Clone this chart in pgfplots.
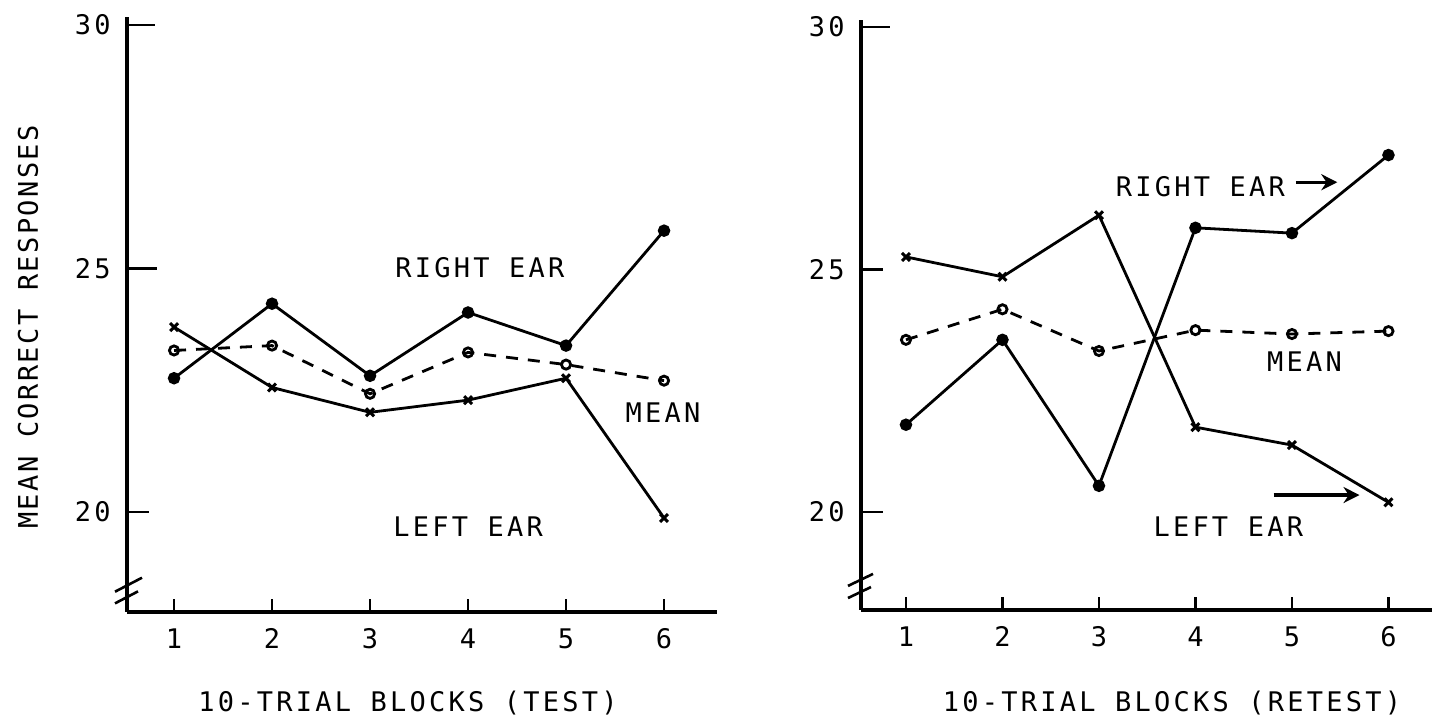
\documentclass[border=0pt]{standalone}
\usepackage{fontspec}
\setmainfont{DejaVu Sans Mono}[LetterSpace=12]
\newfontfamily\ylabfont{DejaVu Sans Mono}[LetterSpace=9]
\usepackage{pgfplots}
\pgfplotsset{compat=1.18}
\usetikzlibrary{arrows.meta}

\tikzset{tk/.style={line width=1.3pt}}
\pgfplotsset{
  panel/.style={
    anchor=south west,
    axis lines=left,
    axis line style={-, line width=1.7pt},
    xtick={1,2,3,4,5,6}, ytick={20,25,30},
    tick align=inside, major tick length=6.5pt,
    xtick style={line width=1.3pt, black},
    ytick style={draw=none},
    xticklabel style={inner sep=0pt, yshift=-8pt},
    yticklabel style={inner sep=0pt, xshift=-8pt},
    /pgf/number format/assume math mode=true,
    tick label style={font=\fontsize{13.5pt}{15pt}\selectfont},
    clip=false,
  },
  dotline/.style={black, line width=1.4pt, mark=*, mark size=2.4pt},
  xline/.style={black, line width=1.4pt, mark=x, mark size=2.8pt, mark options={line width=1.5pt}},
  meanline/.style={black, line width=1.4pt, dash pattern=on 6pt off 5pt,
    mark=o, mark size=2.3pt, mark options={solid, line width=1.4pt}},
}

\begin{document}
\begin{tikzpicture}[font=\fontsize{13.5pt}{15pt}\selectfont]
\useasboundingbox (0,0) rectangle (716pt,363.5pt);

% ---------------- left panel (TEST) ----------------
\begin{axis}[panel,
  at={(63.5pt,57.5pt)},
  x=49pt, y=24.35pt,
  xmin=0.52, xmax=6.54, ymin=17.95, ymax=30.16,
]
\addplot[dotline] coordinates {(1,22.75) (2,24.28) (3,22.8) (4,24.1) (5,23.42) (6,25.78)};
\addplot[xline] coordinates {(1,23.8) (2,22.56) (3,22.05) (4,22.3) (5,22.75) (6,19.88)};
\addplot[meanline] coordinates {(1,23.32) (2,23.42) (3,22.43) (4,23.28) (5,23.03) (6,22.7)};
% y ticks (drawn inward, longer than x ticks)
\draw[tk] (axis cs:0.52,30) -- ([xshift=14pt]axis cs:0.52,30);
\draw[tk] (axis cs:0.52,25) -- ([xshift=15pt]axis cs:0.52,25);
\draw[tk] (axis cs:0.52,20) -- ([xshift=11pt]axis cs:0.52,20);
% axis break marks
\draw[tk] ([xshift=-6pt,yshift=-3.5pt]axis cs:0.52,18.51) -- ([xshift=7.5pt,yshift=3.5pt]axis cs:0.52,18.51);
\draw[tk] ([xshift=-6pt,yshift=-3pt]axis cs:0.52,18.25) -- ([xshift=5.5pt,yshift=3pt]axis cs:0.52,18.25);
% annotations
\node at (axis cs:4.12,25.03) {RIGHT EAR};
\node at (axis cs:5.99,22.05) {MEAN};
\node at (axis cs:4.0,19.7) {LEFT EAR};
\end{axis}

% ---------------- right panel (RETEST) ----------------
\begin{axis}[panel,
  at={(430.5pt,58.5pt)},
  x=48.25pt, y=24.25pt,
  xmin=0.534, xmax=6.45, ymin=17.98, ymax=30.14,
]
\addplot[dotline] coordinates {(1,21.8) (2,23.55) (3,20.54) (4,25.86) (5,25.75) (6,27.36)};
\addplot[xline] coordinates {(1,25.26) (2,24.85) (3,26.12) (4,21.75) (5,21.38) (6,20.2)};
\addplot[meanline] coordinates {(1,23.55) (2,24.18) (3,23.32) (4,23.75) (5,23.67) (6,23.73)};
\draw[tk] (axis cs:0.534,30) -- ([xshift=14.5pt]axis cs:0.534,30);
\draw[tk] (axis cs:0.534,25) -- ([xshift=11pt]axis cs:0.534,25);
\draw[tk] (axis cs:0.534,20) -- ([xshift=11pt]axis cs:0.534,20);
\draw[tk] ([xshift=-6.5pt,yshift=-3pt]axis cs:0.534,18.6) -- ([xshift=6pt,yshift=3pt]axis cs:0.534,18.6);
\draw[tk] ([xshift=-6.5pt,yshift=-3pt]axis cs:0.534,18.35) -- ([xshift=5pt,yshift=2.5pt]axis cs:0.534,18.35);
\node at (axis cs:4.05,26.7) {RIGHT EAR};
\draw[line width=1.6pt, -{Stealth[length=8pt,width=8pt]}] (axis cs:5.04,26.8) -- (axis cs:5.47,26.8);
\node at (axis cs:5.13,23.1) {MEAN};
\node at (axis cs:4.34,19.69) {LEFT EAR};
\draw[line width=1.6pt, -{Stealth[length=8pt,width=8pt]}] (axis cs:4.81,20.35) -- (axis cs:5.70,20.35);
\end{axis}

% axis titles
\node[rotate=90, font=\ylabfont\fontsize{13.5pt}{15pt}\selectfont] at (14pt,200pt) {MEAN CORRECT RESPONSES};
\node at (204pt,12pt) {10-TRIAL BLOCKS (TEST)};
\node at (586pt,12pt) {10-TRIAL BLOCKS (RETEST)};
\end{tikzpicture}
\end{document}
